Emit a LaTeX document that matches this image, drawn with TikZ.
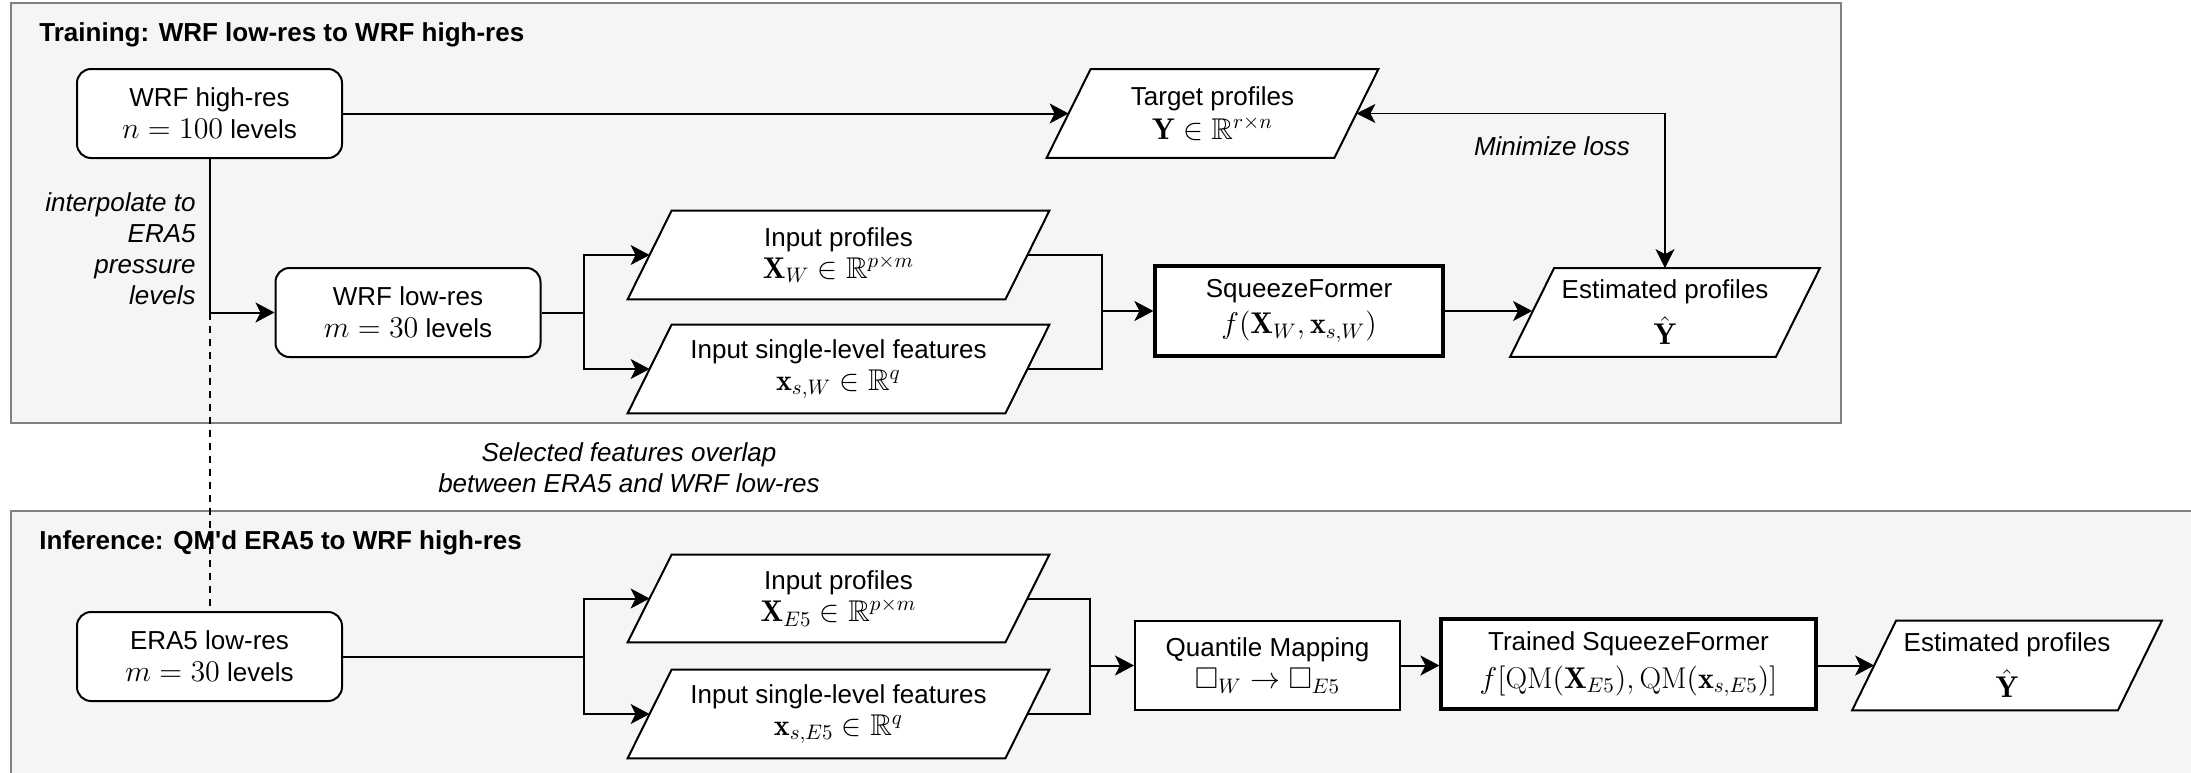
\RequirePackage{fix-cm}
\documentclass[tikz,border=0pt]{standalone}
\usepackage{amsmath,amssymb}
\usepackage{fontspec}
\newfontfamily\helv{Liberation Sans}
\usetikzlibrary{arrows.meta,calc}
\pgfdeclarelayer{bg}
\pgfdeclarelayer{mid}
\pgfsetlayers{bg,mid,main}
\definecolor{panelfill}{HTML}{F5F5F5}
\definecolor{panelline}{HTML}{808080}
\newcommand{\mth}[1]{{\fontsize{15pt}{15pt}\selectfont$#1$}}
\tikzset{
  txt/.style={font=\helv\fontsize{13pt}{16pt}\selectfont, align=center, inner sep=0pt},
  ttl/.style={font=\helv\bfseries\fontsize{13pt}{15pt}\selectfont, inner sep=0pt},
  itl/.style={font=\helv\itshape\fontsize{13pt}{15.5pt}\selectfont, inner sep=0pt},
  rbox/.style={txt, draw, fill=white, line width=1pt, rounded corners=7pt, minimum width=132.5pt, minimum height=44.5pt},
  sbox/.style={txt, draw, fill=white, line width=1pt, minimum width=132.5pt, minimum height=44.5pt},
  thickbox/.style={txt, draw, fill=white, line width=1.6pt, minimum height=45pt},
  paratext/.style={txt, minimum height=44pt},
  parashape/.style={draw, fill=white, line width=1pt, line join=miter},
  panel/.style={draw=panelline, fill=panelfill, line width=1pt},
  conn/.style={line width=1pt, -{Stealth[length=9.5pt,width=10pt,inset=2.5pt]}},
  plain/.style={line width=1pt},
  thinconn/.style={line width=0.7pt, {Stealth[length=9.5pt,width=9.5pt,inset=2.5pt]}-{Stealth[length=9.5pt,width=9.5pt,inset=2.5pt]}},
  dashconn/.style={line width=1pt, dash pattern=on 3.5pt off 3pt}
}
\newcommand{\drawpara}[1]{%
  \begin{pgfonlayer}{mid}
  \draw[parashape] ([xshift=11pt]#1.north west) -- ([xshift=11pt]#1.north east)
    -- ([xshift=-11pt]#1.south east) -- ([xshift=-11pt]#1.south west) -- cycle;
  \end{pgfonlayer}}
\begin{document}
\begin{tikzpicture}[x=0.5pt, y=-0.5pt]
\useasboundingbox (0,0) rectangle (2191,772);
\clip (0,0) rectangle (2191,772);

% panels
\begin{pgfonlayer}{bg}
\fill[white] (0,0) rectangle (2191,772);
\draw[panel] (11,3) rectangle (1841,423);
\draw[panel] (11,511) rectangle (2230,800);
\end{pgfonlayer}

\node[ttl, anchor=west] (t1) at (39,35) {Training: WRF low-res to WRF high-res};
\node[ttl, anchor=west] (t2) at (39,543) {Inference: QM'd ERA5 to WRF high-res};

% training nodes
\node[rbox] (hr) at (209.5,113.5) {WRF high-res\\\mth{n = 100} levels};
\node[rbox] (lr) at (408,312.5) {WRF low-res\\\mth{m = 30} levels};
\node[paratext, minimum width=188.5pt] (ip1) at (838.5,255) {Input profiles\\\mth{\mathbf{X}_W \in \mathbb{R}^{p\times m}}};
\node[paratext, minimum width=188.5pt] (is1) at (838.5,369) {Input single-level features\\\mth{\mathbf{x}_{s,W} \in \mathbb{R}^{q}}};
\node[thickbox, minimum width=144pt] (sf) at (1299,311) {SqueezeFormer\\[2pt]\mth{f(\mathbf{X}_W, \mathbf{x}_{s,W})}};
\node[paratext, minimum width=132.5pt] (ep1) at (1665,312.5) {Estimated profiles\\[5pt]\mth{\hat{\mathbf{Y}}}};
\node[paratext, minimum width=143.5pt] (tp) at (1212.5,113.5) {Target profiles\\[1pt]\mth{\mathbf{Y} \in \mathbb{R}^{r\times n}}};
\drawpara{ip1}
\drawpara{is1}
\drawpara{ep1}
\drawpara{tp}

\node[itl, align=right, anchor=east] (lbl1) at (196,249) {interpolate to\\ERA5\hspace*{0.28em}\\pressure\\levels};
\node[itl] (lbl2) at (1552,146) {Minimize loss};
\node[itl, align=center] (lbl3) at (629,468) {Selected features overlap\\between ERA5 and WRF low-res};

% inference nodes
\node[rbox] (era) at (209.5,656.5) {ERA5 low-res\\\mth{m = 30} levels};
\node[paratext, minimum width=188.5pt, minimum height=43.5pt] (ip2) at (838.5,598.5) {Input profiles\\\mth{\mathbf{X}_{E5} \in \mathbb{R}^{p\times m}}};
\node[paratext, minimum width=188.5pt] (is2) at (838.5,714) {Input single-level features\\\mth{\mathbf{x}_{s,E5} \in \mathbb{R}^{q}}};
\node[sbox] (qm) at (1267.5,665.5) {Quantile Mapping\\\mth{\square_W \to \square_{E5}}};
\node[thickbox, minimum width=187.5pt] (tsf) at (1628.5,664) {Trained SqueezeFormer\\[3pt]\mth{f[\mathrm{QM}(\mathbf{X}_{E5}), \mathrm{QM}(\mathbf{x}_{s,E5})]}};
\node[paratext, minimum width=132.5pt, minimum height=44.5pt] (ep2) at (2007,665.5) {Estimated profiles\\[5pt]\mth{\hat{\mathbf{Y}}}};
\drawpara{ip2}
\drawpara{is2}
\drawpara{ep2}

% coordinates
\coordinate (j1) at (hr.south |- lr.west);
\coordinate (b1) at (584,312.5);
\coordinate (b2) at (1102,311);
\coordinate (b3) at (584,656.5);
\coordinate (b4) at (1090,665.5);

% training connectors
\draw[conn] (hr) -- (tp);
\draw[conn] (hr.south) |- (lr.west);
\draw[plain] (lr.east) -- (b1);
\draw[conn] (b1) |- (ip1.west);
\draw[conn] (b1) |- (is1.west);
\draw[plain] (ip1.east) -| (b2);
\draw[plain] (is1.east) -| (b2);
\draw[conn] (b2) -- (sf.west);
\draw[conn] (sf.east) -- (sf.east -| ep1.west);
\draw[thinconn] (tp.east) -| (ep1.north);

% dashed link
\draw[dashconn] (j1) -- (era.north);

% inference connectors
\draw[plain] (era.east) -- (b3);
\draw[conn] (b3) |- (ip2.west);
\draw[conn] (b3) |- (is2.west);
\draw[plain] (ip2.east) -| (b4);
\draw[plain] (is2.east) -| (b4);
\draw[conn] (b4) -- (qm.west);
\draw[conn] (qm.east) -- (qm.east -| tsf.west);
\draw[conn] (tsf.east |- qm.east) -- (qm.east -| ep2.west);
\end{tikzpicture}
\end{document}
